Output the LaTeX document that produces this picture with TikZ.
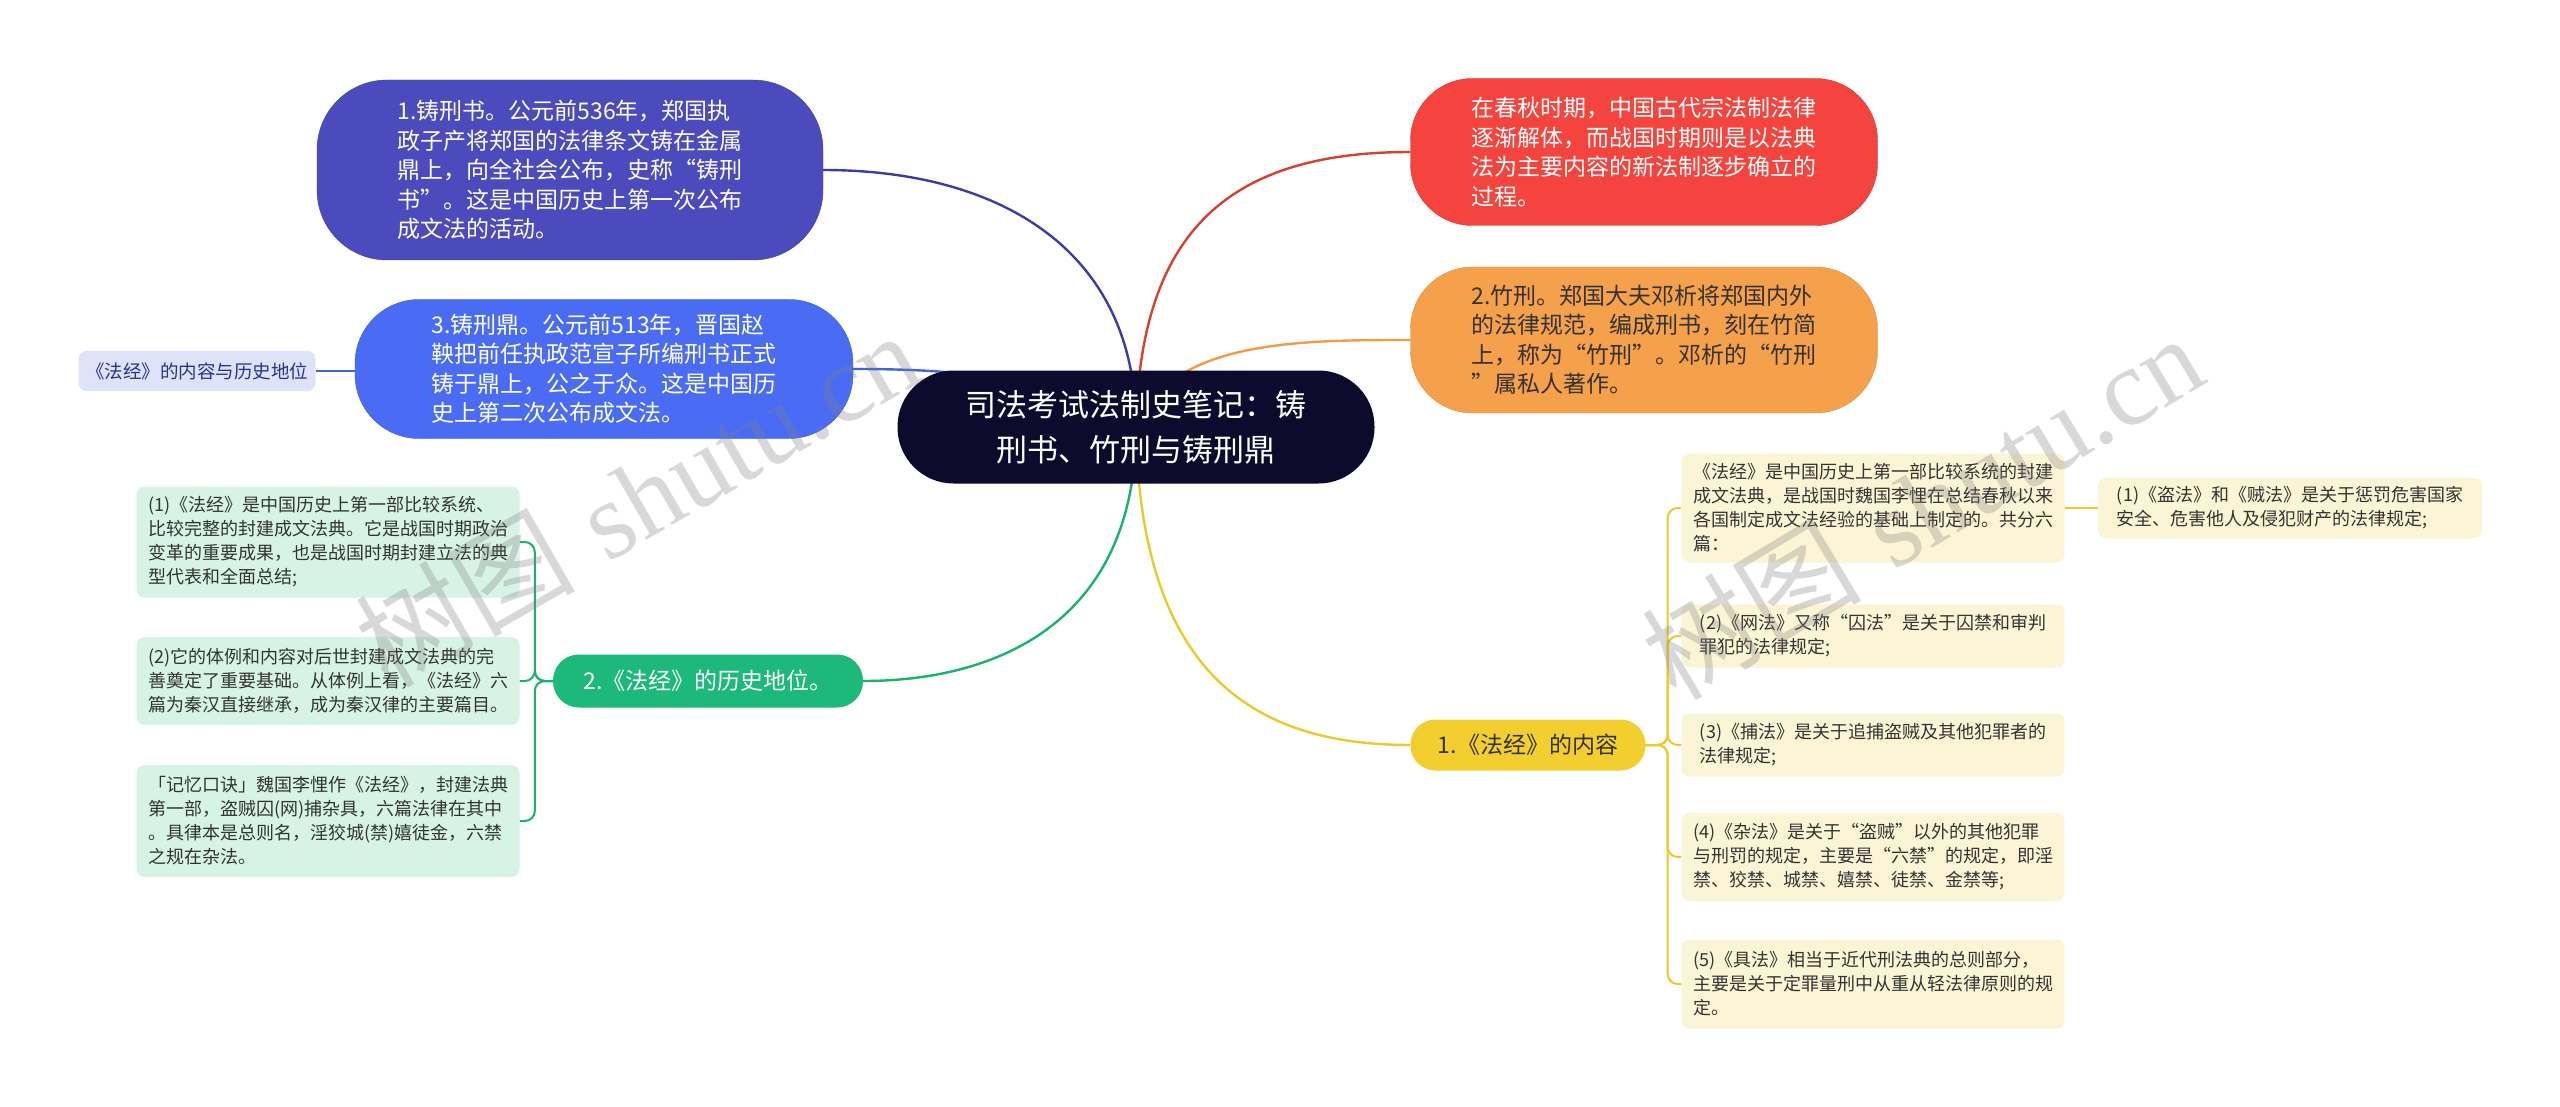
\documentclass[tikz,border=0pt]{standalone}
\usepackage{fontspec}
\setmainfont{Noto Sans CJK SC}
\newfontfamily\wmfont{Liberation Serif}
\usetikzlibrary{backgrounds}

% 配色
\definecolor{rootbg}{HTML}{0C0B2E}
\definecolor{purplebg}{HTML}{4B4BBE}
\definecolor{bluebg}{HTML}{4A6CF5}
\definecolor{redbg}{HTML}{F4443D}
\definecolor{orangebg}{HTML}{F5A04B}
\definecolor{greenbg}{HTML}{1DB97B}
\definecolor{yellowbg}{HTML}{F2CE2E}
\definecolor{greenleaf}{HTML}{D6F3E6}
\definecolor{yellowleaf}{HTML}{FCF5D5}
\definecolor{lavender}{HTML}{DEE3FA}
\definecolor{purpleln}{HTML}{3C3CA6}
\definecolor{blueln}{HTML}{3E64E6}
\definecolor{redln}{HTML}{D9412F}
\definecolor{orangeln}{HTML}{EE9C47}
\definecolor{greenln}{HTML}{18B273}
\definecolor{yellowln}{HTML}{EDC92A}
\definecolor{darktext}{HTML}{333333}
\definecolor{navytext}{HTML}{27338C}

\begin{document}
\begin{tikzpicture}[x=1pt, y=-1pt, line cap=round, line join=round,
    bigfont/.style={font=\fontsize{23}{29.5}\selectfont},
    smallfont/.style={font=\fontsize{18}{24}\selectfont},
    pill/.style={rounded corners=#1, inner sep=0pt, align=left},
    leaf/.style={fill=#1, rounded corners=8pt, inner sep=0pt, align=left,
        minimum width=383pt, smallfont, text=darktext},
    link/.style={line width=2.4pt},
    bracket/.style={line width=2pt, rounded corners=10pt},
    wm/.style={text=gray, opacity=0.3, font=\fontsize{110}{110}\selectfont}]

    % 画布范围
    \useasboundingbox (0,0) rectangle (2560,1107);

    % 中心主题
    \node[pill=56pt, fill=rootbg, text=white, minimum width=477pt, minimum height=113pt,
        font=\fontsize{31}{45}\selectfont, align=center] (root) at (1136,427)
        {司法考试法制史笔记：铸\\刑书、竹刑与铸刑鼎};

    % 1. 左侧分支
    \node[pill=70pt, fill=purplebg, draw=purplebg!85!black, text=white, bigfont,
        minimum width=506pt, minimum height=180pt] (xingshu) at (570,170)
        {1.铸刑书。公元前536年，郑国执\\政子产将郑国的法律条文铸在金属\\鼎上，向全社会公布，史称“铸刑\\书”。这是中国历史上第一次公布\\成文法的活动。};
    \node[pill=64pt, fill=bluebg, draw=bluebg!85!black, text=white, bigfont,
        minimum width=498pt, minimum height=139pt] (xingding) at (604,369)
        {3.铸刑鼎。公元前513年，晋国赵\\鞅把前任执政范宣子所编刑书正式\\铸于鼎上，公之于众。这是中国历\\史上第二次公布成文法。};
    \node[fill=lavender, rounded corners=8pt, inner sep=0pt, minimum width=237pt,
        minimum height=40pt, text=navytext, font=\fontsize{18.5}{22}\selectfont]
        (zongti) at (197,371) {《法经》的内容与历史地位};
    \node[pill=26pt, fill=greenbg, text=white, bigfont, minimum width=310pt,
        minimum height=53pt] (diwei) at (708,681) {2.《法经》的历史地位。};

    % 历史地位的子项
    \node[leaf=greenleaf, minimum height=111pt] (diwei1) at (328,542)
        {(1)《法经》是中国历史上第一部比较系统、\\比较完整的封建成文法典。它是战国时期政治\\变革的重要成果，也是战国时期封建立法的典\\型代表和全面总结;};
    \node[leaf=greenleaf, minimum height=88pt] (diwei2) at (328,681)
        {(2)它的体例和内容对后世封建成文法典的完\\善奠定了重要基础。从体例上看，《法经》六\\篇为秦汉直接继承，成为秦汉律的主要篇目。};
    \node[leaf=greenleaf, minimum height=112pt] (koujue) at (328,821)
        {「记忆口诀」魏国李悝作《法经》，封建法典\\第一部，盗贼囚(网)捕杂具，六篇法律在其中\\。具律本是总则名，淫狡城(禁)嬉徒金，六禁\\之规在杂法。};

    % 2. 右侧分支
    \node[pill=62pt, fill=redbg, draw=redbg!85!black, text=white, bigfont,
        minimum width=467pt, minimum height=147pt] (beijing) at (1644,152)
        {在春秋时期，中国古代宗法制法律\\逐渐解体，而战国时期则是以法典\\法为主要内容的新法制逐步确立的\\过程。};
    \node[pill=62pt, fill=orangebg, draw=orangebg!90!black, text=darktext, bigfont,
        minimum width=467pt, minimum height=146pt] (zhuxing) at (1644,340)
        {2.竹刑。郑国大夫邓析将郑国内外\\的法律规范，编成刑书，刻在竹简\\上，称为“竹刑”。邓析的“竹刑\\”属私人著作。};
    \node[pill=25pt, fill=yellowbg, text=darktext, bigfont, minimum width=235pt,
        minimum height=51pt] (neirong) at (1528,745) {1.《法经》的内容};

    % 法经内容的子项
    \node[leaf=yellowleaf, minimum height=109pt] (neirong0) at (1873,508)
        {《法经》是中国历史上第一部比较系统的封建\\成文法典，是战国时魏国李悝在总结春秋以来\\各国制定成文法经验的基础上制定的。共分六\\篇：};
    \node[leaf=yellowleaf, minimum width=384pt, minimum height=61pt] (daofa) at (2290,508)
        {(1)《盗法》和《贼法》是关于惩罚危害国家\\安全、危害他人及侵犯财产的法律规定;};
    \node[leaf=yellowleaf, minimum height=63pt] (wangfa) at (1873,636)
        {(2)《网法》又称“囚法”是关于囚禁和审判\\罪犯的法律规定;};
    \node[leaf=yellowleaf, minimum height=63pt] (bufa) at (1873,745)
        {(3)《捕法》是关于追捕盗贼及其他犯罪者的\\法律规定;};
    \node[leaf=yellowleaf, minimum height=88pt] (zafa) at (1873,857)
        {(4)《杂法》是关于“盗贼”以外的其他犯罪\\与刑罚的规定，主要是“六禁”的规定，即淫\\禁、狡禁、城禁、嬉禁、徒禁、金禁等;};
    \node[leaf=yellowleaf, minimum height=89pt] (jufa) at (1873,984)
        {(5)《具法》相当于近代刑法典的总则部分，\\主要是关于定罪量刑中从重从轻法律原则的规\\定。};

    % 连线 (放在背景层，被节点遮住)
    \begin{scope}[on background layer]
        \fill[white] (0,0) rectangle (2560,1107);
        \draw[link, purpleln] (root.center) .. controls (1136,250) and (1000,170) .. (xingshu.east);
        \draw[link, blueln] (root.center) .. controls (1050,375) and (950,369) .. (xingding.east);
        \draw[link, greenln] (root.center) .. controls (1136,620) and (1000,681) .. (diwei.east);
        \draw[link, redln] (root.center) .. controls (1140,230) and (1230,152) .. (beijing.west);
        \draw[link, orangeln] (root.center) .. controls (1170,340) and (1300,340) .. (zhuxing.west);
        \draw[link, yellowln] (root.center) .. controls (1140,680) and (1260,745) .. (neirong.west);
        \draw[line width=2pt, blueln] (zongti.east) -- (zongti.east -| xingding.west);
        % 括号形连线
        \foreach \leafname in {diwei1, diwei2, koujue}
            \draw[bracket, greenln] (diwei.west) -- ++(-18,0) |- (\leafname.east);
        \foreach \leafname in {neirong0, wangfa, bufa, zafa, jufa}
            \draw[bracket, yellowln] (neirong.east) -- ++(22,0) |- (\leafname.west);
        \draw[line width=2pt, yellowln] (neirong0.east) -- (daofa.west);
    \end{scope}

    % 水印
    \node[wm, rotate=30] (shuiyin1) at (637,498) {树图\hspace{0.3em}{\wmfont shutu.cn}};
    \node[wm, rotate=31] (shuiyin2) at (1922,506) {树图\hspace{0.3em}{\wmfont shutu.cn}};
\end{tikzpicture}
\end{document}
